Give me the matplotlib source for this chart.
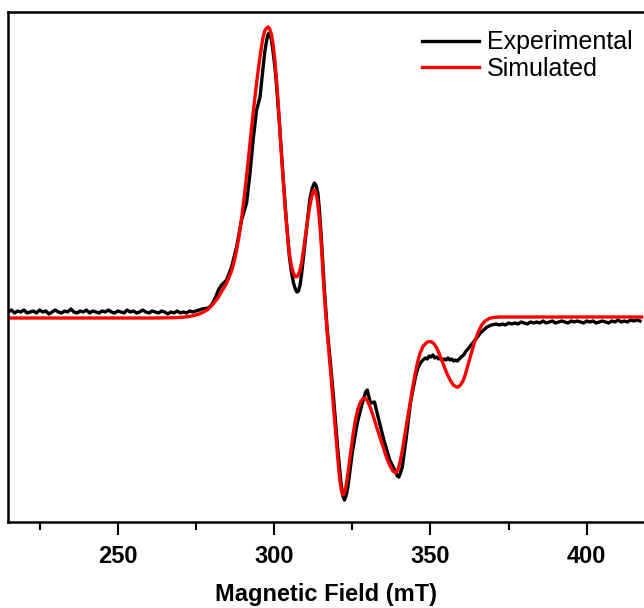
import numpy as np
import matplotlib
matplotlib.use('Agg')
import matplotlib.pyplot as plt

plt.rcParams['font.family'] = ['Liberation Sans', 'DejaVu Sans']

# Experimental spectrum (arbitrary units)
exp_left_start = 215.0  # mT, 1 mT steps
exp_left_noise = [0.06, 0.08, 0.05, 0.07, 0.06, 0.08, 0.05, 0.06, 0.07, 0.05,
                  0.08, 0.06, 0.07, 0.04, 0.06, 0.08, 0.06, 0.05, 0.07, 0.06,
                  0.09, 0.06, 0.05, 0.07, 0.06, 0.08, 0.05, 0.07, 0.06, 0.05,
                  0.07, 0.06, 0.08, 0.06, 0.05, 0.07, 0.06, 0.05, 0.08, 0.06,
                  0.07, 0.05, 0.06, 0.08, 0.06, 0.05, 0.07, 0.06, 0.05, 0.07,
                  0.06, 0.04, 0.06, 0.05, 0.07, 0.05, 0.06, 0.05, 0.07, 0.06,
                  0.07, 0.08, 0.09]
exp_mid_field = [279.0, 280.0, 281.2, 282.2, 283.2, 284.8, 286.4, 288.0, 289.6, 291.2,
                 292.3, 293.3, 294.4, 295.5, 296.5, 297.0, 297.6, 298.0, 298.4, 298.8,
                 299.2, 299.6, 300.1, 300.6, 301.7,
                 302.8, 303.9, 304.9, 305.6, 306.2, 306.8, 307.3, 307.8, 308.3, 308.8,
                 310.0, 311.4, 312.2, 312.9, 313.5, 314.0, 314.5,
                 315.0, 316.1, 317.0, 318.0, 319.0, 320.3, 321.4, 322.0, 322.5, 323.0,
                 323.6, 325.0,
                 326.6, 328.2, 329.3, 329.8, 330.4, 330.9, 332.1, 333.5, 335.1, 337.0,
                 338.9, 339.4, 339.9, 340.4, 341.0, 342.3, 343.6, 345.2, 346.0, 346.8,
                 347.6, 348.4, 349.0, 349.6,
                 350.2, 350.8, 351.4, 352.0, 352.6, 353.2, 353.8, 354.4, 355.0, 355.6,
                 356.2, 356.8, 357.4, 358.0, 358.6, 359.2, 359.8, 360.6, 361.4, 362.3,
                 363.0, 363.8, 365.0, 366.0, 367.0, 368.1, 369.5, 371.0]
exp_mid_value = [0.10, 0.13, 0.20, 0.28, 0.33, 0.38, 0.51, 0.71, 0.98, 1.15,
                 1.45, 1.78, 2.08, 2.21, 2.51, 2.66, 2.77, 2.83, 2.85, 2.83,
                 2.77, 2.68, 2.55, 2.40, 1.95,
                 1.45, 0.98, 0.61, 0.45, 0.35, 0.29, 0.26, 0.27, 0.33, 0.44,
                 0.78, 1.18, 1.30, 1.35, 1.32, 1.25, 1.08,
                 0.85, 0.28, -0.12, -0.44, -0.79, -1.29, -1.65, -1.78, -1.82, -1.78,
                 -1.69, -1.35,
                 -1.05, -0.85, -0.74, -0.72, -0.80, -0.85, -0.84, -1.02, -1.22, -1.42,
                 -1.54, -1.58, -1.59, -1.55, -1.49, -1.19, -0.85, -0.59, -0.50, -0.45,
                 -0.42, -0.40, -0.41, -0.38,
                 -0.39, -0.37, -0.40, -0.39, -0.41, -0.40, -0.42, -0.41, -0.42, -0.40,
                 -0.42, -0.41, -0.43, -0.42, -0.43, -0.41, -0.39, -0.37, -0.33, -0.30,
                 -0.27, -0.24, -0.19, -0.15, -0.12, -0.09, -0.07, -0.06]
exp_right_start = 372.0  # mT, 1 mT steps
exp_right_noise = [-0.07, -0.06, -0.07, -0.05, -0.06, -0.05, -0.06, -0.04, -0.05, -0.06,
                   -0.04, -0.05, -0.04, -0.05, -0.03, -0.05, -0.04, -0.03, -0.05, -0.04,
                   -0.03, -0.04, -0.05, -0.03, -0.04, -0.03, -0.04, -0.05, -0.03, -0.04,
                   -0.03, -0.05, -0.04, -0.03, -0.04, -0.05, -0.03, -0.04, -0.02, -0.04,
                   -0.03, -0.04, -0.02, -0.03, -0.02, -0.03]

# Simulated spectrum
sim_field = [215.0, 240.0, 262.0, 268.0, 270.0, 272.0, 274.0, 276.0, 277.5, 279.0,
             280.5, 282.0, 283.5, 284.5, 285.5, 286.4, 287.2, 287.9, 288.8, 289.6,
             290.4, 291.2, 292.3, 293.3, 294.4, 295.0, 295.5, 296.0, 296.5, 297.0,
             297.6, 298.1, 298.6, 299.2, 299.7, 300.3, 300.8, 301.3, 302.4, 303.5,
             304.5, 305.0, 305.6, 306.3, 307.0, 307.6, 308.2, 308.8, 309.6, 310.4,
             311.2, 312.0, 312.5, 312.9, 313.3, 313.8, 314.3, 314.7, 315.2, 315.7,
             316.3, 317.0, 317.7, 318.4, 319.5, 320.5, 321.0, 321.5, 322.0, 322.5,
             323.0, 323.6, 324.3, 325.1, 325.9, 326.7, 327.5, 328.3, 329.1, 329.9,
             330.7, 331.7, 332.8, 333.9, 335.0, 336.0, 337.1, 338.0, 338.9, 339.6,
             340.3, 341.1, 341.9, 342.7, 343.5, 344.3, 345.1, 345.9, 346.7, 347.7,
             348.8, 349.6, 350.4, 351.2, 352.0, 353.0, 354.1, 355.2, 356.3, 357.3,
             358.3, 358.9, 359.6, 360.4, 361.1, 362.1, 363.2, 364.2, 365.3, 366.4,
             367.5, 368.8, 370.1, 372.0, 390.0, 417.5]
sim_value = [0.0, 0.0, 0.0, 0.003, 0.006, 0.012, 0.022, 0.04, 0.06, 0.09,
             0.14, 0.20, 0.28, 0.33, 0.40, 0.47, 0.56, 0.66, 0.82, 1.00,
             1.20, 1.42, 1.75, 2.05, 2.35, 2.50, 2.61, 2.72, 2.81, 2.87,
             2.90, 2.91, 2.89, 2.83, 2.73, 2.56, 2.37, 2.15, 1.61, 1.11,
             0.75, 0.62, 0.51, 0.44, 0.41, 0.42, 0.47, 0.55, 0.72, 0.91,
             1.08, 1.21, 1.27, 1.28, 1.26, 1.18, 1.05, 0.91, 0.68, 0.41,
             0.13, -0.15, -0.40, -0.66, -1.08, -1.45, -1.62, -1.72, -1.77, -1.75,
             -1.68, -1.56, -1.39, -1.20, -1.04, -0.92, -0.85, -0.81, -0.80, -0.83,
             -0.89, -0.98, -1.09, -1.20, -1.30, -1.40, -1.48, -1.53, -1.55, -1.52,
             -1.44, -1.31, -1.15, -1.00, -0.85, -0.70, -0.56, -0.44, -0.35, -0.28,
             -0.245, -0.235, -0.24, -0.26, -0.30, -0.37, -0.46, -0.55, -0.62, -0.67,
             -0.69, -0.69, -0.67, -0.63, -0.57, -0.46, -0.34, -0.23, -0.14, -0.07,
             -0.03, -0.005, 0.005, 0.01, 0.01, 0.01]

x_ticks = [250, 300, 350, 400]


def main():
    exp_field = np.concatenate([
        exp_left_start + np.arange(len(exp_left_noise)),
        exp_mid_field,
        exp_right_start + np.arange(len(exp_right_noise)),
    ])
    exp_value = np.concatenate([exp_left_noise, exp_mid_value, exp_right_noise])

    fig = plt.figure(figsize=(6.44, 6.08), dpi=100)
    ax = fig.add_axes([8 / 644, 1 - 522 / 608, 1 - 8 / 644, (522 - 12) / 608])

    ax.plot(exp_field, exp_value, color='black', linewidth=2.4, label='Experimental')
    ax.plot(sim_field, sim_value, color='#ff0000', linewidth=2.4, label='Simulated')

    ax.set_xlim(214.9, 418.3)
    ax.set_ylim(-2.04, 3.06)
    ax.set_yticks([])
    ax.set_xticks(x_ticks)
    ax.set_xticks([225, 275, 325, 375], minor=True)
    ax.tick_params(axis='x', which='major', length=9.5, width=1.5, pad=7, labelsize=17)
    ax.tick_params(axis='x', which='minor', length=5.5, width=1.5)
    for lbl in ax.get_xticklabels():
        lbl.set_fontweight('bold')
    for side in ['left', 'top', 'bottom']:
        ax.spines[side].set_linewidth(1.8)
    ax.spines['right'].set_visible(False)

    ax.set_xlabel('Magnetic Field (mT)', fontsize=17, fontweight='bold', labelpad=11)

    ax.legend(loc='upper right', bbox_to_anchor=(645 / 644, 1 - 18 / 608),
              bbox_transform=fig.transFigure, frameon=False, fontsize=18,
              handlelength=2.3, handletextpad=0.3, labelspacing=0.1, borderpad=0)

    fig.savefig('out.png', dpi=100)
    plt.close(fig)


if __name__ == "__main__":
    main()
